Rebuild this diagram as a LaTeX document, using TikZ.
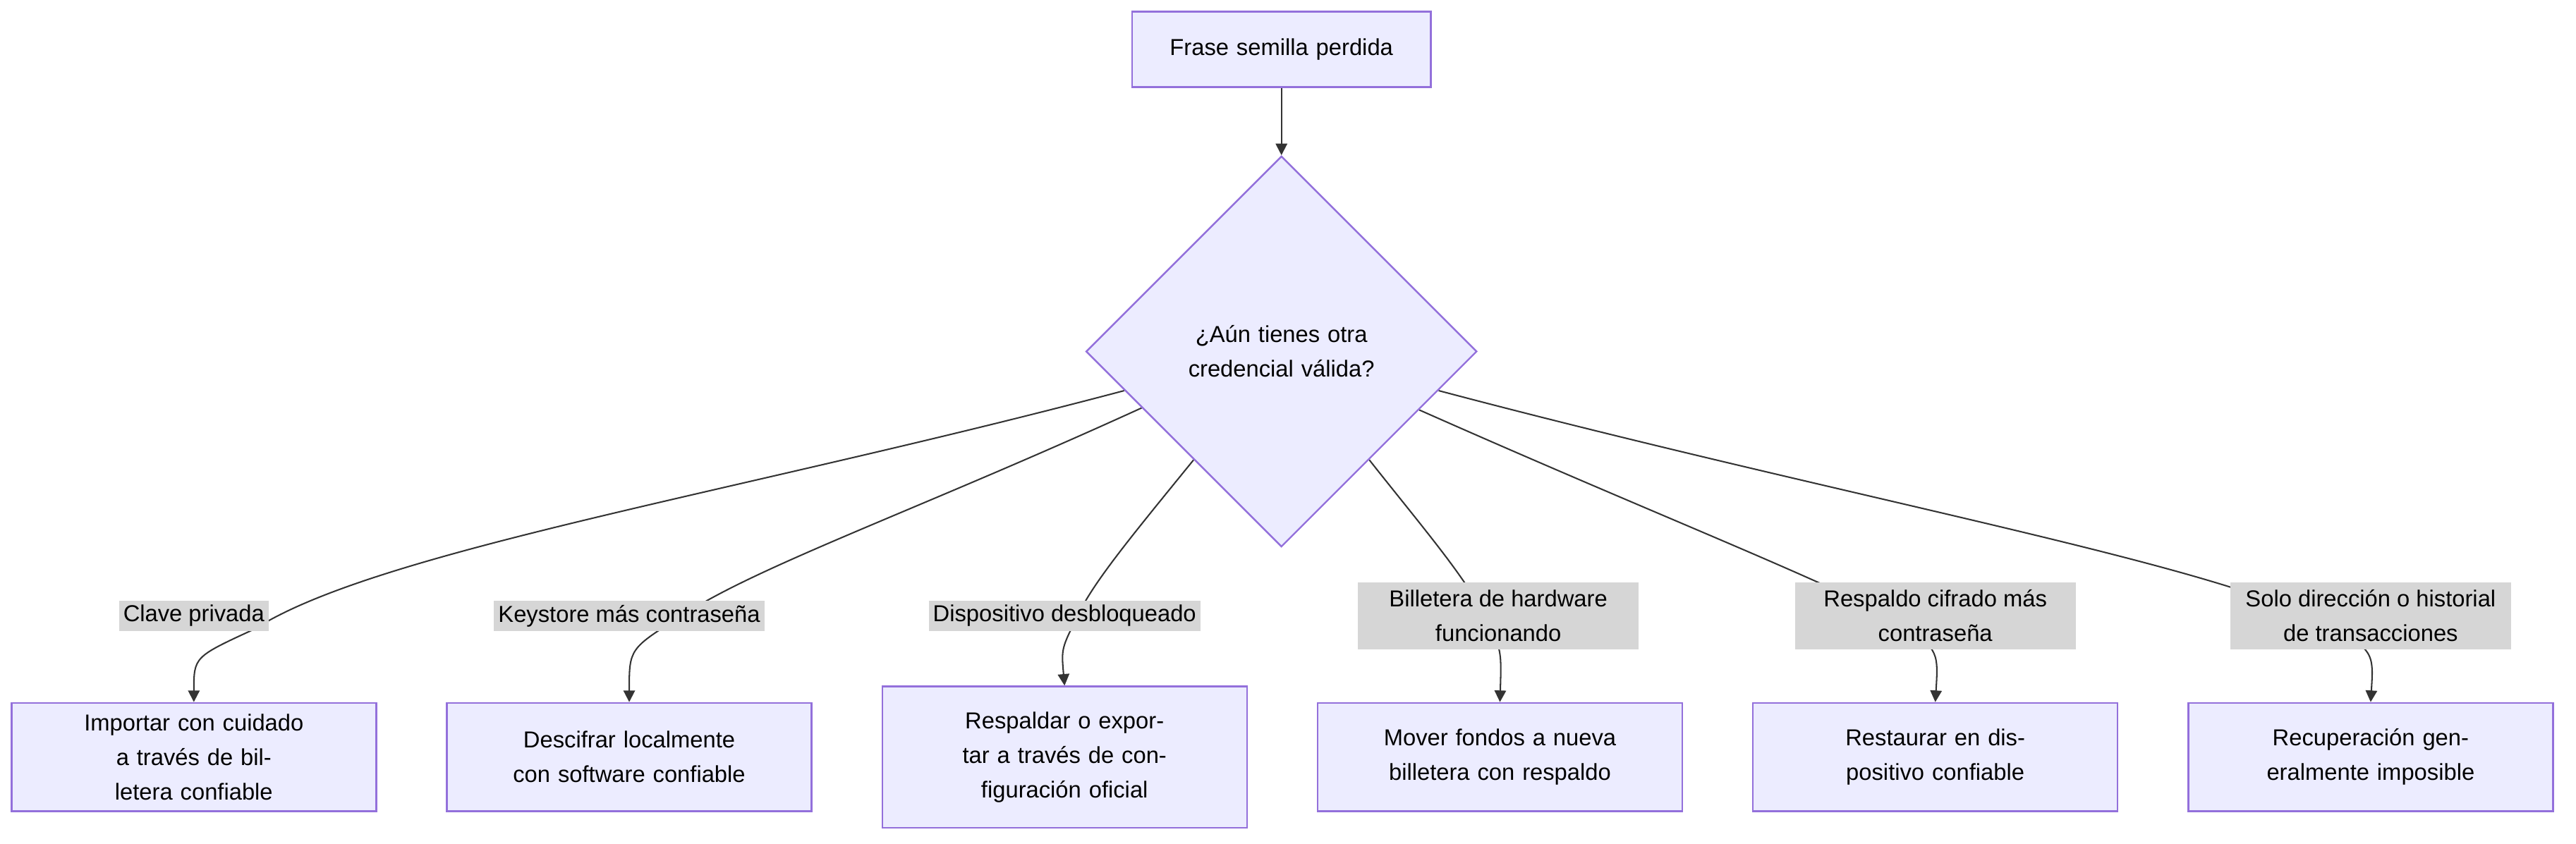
\documentclass[tikz,border=0pt]{standalone}
\usepackage{fontspec}
\setmainfont{Liberation Sans}
\usetikzlibrary{arrows.meta, shapes.geometric}
\pgfdeclarelayer{background}
\pgfsetlayers{background,main}
\definecolor{boxfill}{HTML}{ECECFF}
\definecolor{boxline}{HTML}{9370DB}
\definecolor{lblfill}{HTML}{D6D6D6}
\definecolor{edgecol}{HTML}{333333}
\tikzset{
    box/.style={rectangle, draw=boxline, fill=boxfill, line width=0.6pt, minimum width=4.44cm, minimum height=1.32cm, text width=3.4cm, align=center, font=\fontsize{8}{12}\selectfont, inner sep=0pt},
    decision/.style={diamond, draw=boxline, fill=boxfill, line width=0.6pt, aspect=1, minimum size=4.76cm, text width=3.5cm, align=center, font=\fontsize{8}{12}\selectfont, inner sep=0pt},
    lbl/.style={fill=lblfill, align=center, font=\fontsize{8}{12}\selectfont, inner sep=1.5pt},
    edge/.style={draw=edgecol, line width=0.5pt},
    tip/.style={-{Triangle[length=4pt,width=4pt]}},
}
\begin{document}
\begin{tikzpicture}[x=0.02cm, y=-0.02cm]
    \useasboundingbox (0,0) rectangle (1568,513.5);

    \node[box, minimum width=3.64cm, minimum height=0.92cm, text width=3.4cm] (start) at (780,30) {Frase semilla perdida};
    \node[decision] (q) at (780,214) {¿Aún tienes otra credencial válida?};

    \node[lbl] (l1) at (118,375) {Clave privada};
    \node[lbl] (l2) at (383,375) {Keystore más contraseña};
    \node[lbl] (l3) at (648,375) {Dispositivo desbloqueado};
    \node[lbl, minimum width=3.42cm, minimum height=0.82cm] (l4) at (912,375) {Billetera de hardware\\funcionando};
    \node[lbl, minimum width=3.42cm, minimum height=0.82cm] (l5) at (1178,375) {Respaldo cifrado más\\contraseña};
    \node[lbl, minimum width=3.42cm, minimum height=0.82cm] (l6) at (1443,375) {Solo dirección o historial\\de transacciones};

    \node[box] (b1) at (118,461) {Importar con cuidado a través de billetera confiable};
    \node[box] (b2) at (383,461) {Descifrar localmente con software confiable};
    \node[box, minimum height=1.72cm] (b3) at (648,461) {Respaldar o exportar a través de configuración oficial};
    \node[box] (b4) at (913,461) {Mover fondos a nueva billetera con respaldo};
    \node[box] (b5) at (1178,461) {Restaurar en dispositivo confiable};
    \node[box] (b6) at (1443,461) {Recuperación generalmente imposible};

    \coordinate (k1) at (155,383);
    \coordinate (k2) at (415,375);
    \coordinate (k3) at (656,375);
    \coordinate (k4) at (903,375);
    \coordinate (k5) at (1150,375);
    \coordinate (k6) at (1405,375);

    \draw[edge, tip] (start) -- (q.north);

    \begin{pgfonlayer}{background}
    \draw[edge, tip] (q.194) .. controls (450,300) and (230,335) .. (k1) .. controls (118,400) .. (b1.north);
    \draw[edge, tip] (q.202.6) .. controls (560,310) and (460,345) .. (k2) .. controls (383,395) .. (b2.north);
    \draw[edge, tip] (q.231) .. controls (690,325) and (665,355) .. (k3) .. controls (646,395) .. (b3.north);
    \draw[edge, tip] (q.309) .. controls (865,320) and (895,355) .. (k4) .. controls (914,395) .. (b4.north);
    \draw[edge, tip] (q.337.4) .. controls (1000,310) and (1090,345) .. (k5) .. controls (1180,395) .. (b5.north);
    \draw[edge, tip] (q.346) .. controls (1110,300) and (1330,340) .. (k6) .. controls (1445,395) .. (b6.north);
    \end{pgfonlayer}
\end{tikzpicture}
\end{document}
